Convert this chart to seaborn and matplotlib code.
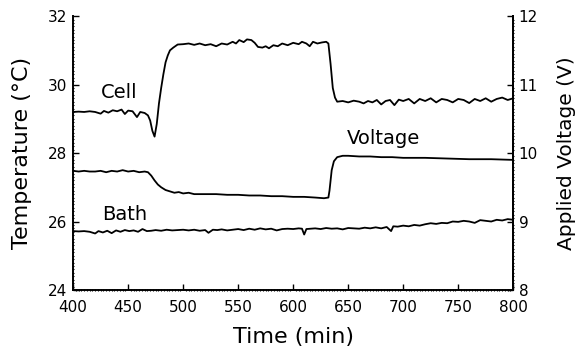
import matplotlib
matplotlib.use("Agg")
import matplotlib.pyplot as plt
from matplotlib.ticker import MultipleLocator
import seaborn as sns
import pandas as pd

# Cell temperature (°C)
cell_time = [400, 405, 410, 415, 420, 425, 428, 432, 436, 440, 444, 447, 450, 454, 458, 461,
             465, 468, 470, 472, 474, 476, 478, 480, 482, 484, 486, 488, 491, 495, 500, 505,
             510, 515, 520, 525, 530, 535, 540, 545, 548, 551, 555, 558, 562, 565, 568, 572,
             575, 578, 582, 586, 590, 595, 600, 605, 608, 612, 615, 618, 622, 626, 630, 632,
             634, 636, 638, 640, 645, 650, 655, 660, 664, 668, 672, 676, 680, 684, 688, 692,
             696, 700, 705, 710, 715, 720, 725, 730, 735, 740, 745, 750, 755, 760, 765, 770,
             775, 780, 785, 790, 795, 800]
cell_temp = [29.20, 29.21, 29.20, 29.22, 29.20, 29.15, 29.23, 29.18, 29.25, 29.22, 29.27, 29.14,
             29.24, 29.22, 29.05, 29.20, 29.17, 29.10, 28.95, 28.65, 28.48, 28.85, 29.45, 29.90,
             30.30, 30.65, 30.85, 31.00, 31.08, 31.17, 31.18, 31.20, 31.16, 31.20, 31.15, 31.18,
             31.12, 31.20, 31.17, 31.25, 31.20, 31.30, 31.24, 31.32, 31.30, 31.22, 31.10, 31.08,
             31.12, 31.06, 31.15, 31.12, 31.20, 31.15, 31.22, 31.18, 31.25, 31.20, 31.12, 31.25,
             31.20, 31.23, 31.25, 31.20, 30.60, 29.90, 29.62, 29.50, 29.52, 29.48, 29.53, 29.50,
             29.45, 29.52, 29.48, 29.55, 29.42, 29.52, 29.55, 29.40, 29.56, 29.52, 29.58, 29.45,
             29.58, 29.52, 29.60, 29.48, 29.58, 29.55, 29.48, 29.58, 29.55, 29.46, 29.58, 29.52,
             29.60, 29.50, 29.58, 29.62, 29.55, 29.60]

# Bath temperature (°C)
bath_time = [400, 405, 410, 415, 420, 423, 427, 431, 435, 439, 443, 447, 451, 455, 459, 463,
             467, 471, 475, 480, 485, 490, 495, 500, 505, 510, 515, 520, 523, 527, 531, 535,
             540, 545, 550, 555, 560, 565, 570, 575, 580, 585, 590, 595, 600, 605, 608, 610,
             612, 616, 620, 625, 630, 635, 640, 645, 650, 655, 660, 665, 670, 675, 680, 685,
             689, 691, 695, 700, 705, 710, 715, 720, 725, 730, 735, 740, 745, 750, 755, 760,
             765, 770, 775, 780, 785, 790, 795, 800]
bath_temp = [25.72, 25.71, 25.72, 25.70, 25.65, 25.72, 25.68, 25.73, 25.66, 25.74, 25.70, 25.75,
             25.72, 25.74, 25.70, 25.78, 25.72, 25.73, 25.75, 25.73, 25.76, 25.74, 25.75, 25.76,
             25.74, 25.76, 25.73, 25.75, 25.67, 25.76, 25.75, 25.77, 25.74, 25.76, 25.78, 25.75,
             25.79, 25.76, 25.80, 25.77, 25.79, 25.74, 25.78, 25.79, 25.78, 25.80, 25.79, 25.62,
             25.78, 25.79, 25.80, 25.78, 25.81, 25.79, 25.80, 25.77, 25.81, 25.80, 25.79, 25.82,
             25.80, 25.83, 25.80, 25.84, 25.72, 25.86, 25.85, 25.88, 25.86, 25.90, 25.88, 25.92,
             25.95, 25.93, 25.96, 25.95, 26.00, 25.99, 26.02, 26.00, 25.96, 26.04, 26.02, 26.00,
             26.05, 26.03, 26.07, 26.05]

# Applied voltage (V)
volt_time = [400, 405, 410, 415, 420, 425, 430, 435, 440, 445, 450, 455, 460, 465, 468, 471,
             474, 477, 480, 484, 488, 492, 496, 500, 505, 510, 520, 530, 540, 550, 560, 570,
             580, 590, 600, 610, 620, 628, 632, 633, 635, 637, 640, 645, 650, 660, 670, 680,
             690, 700, 720, 740, 760, 780, 800]
volt_value = [9.74, 9.73, 9.74, 9.73, 9.73, 9.74, 9.72, 9.74, 9.73, 9.75, 9.73, 9.74, 9.72, 9.73,
              9.72, 9.67, 9.60, 9.54, 9.50, 9.46, 9.44, 9.42, 9.43, 9.41, 9.42, 9.40, 9.40, 9.40,
              9.39, 9.39, 9.38, 9.38, 9.37, 9.37, 9.36, 9.36, 9.35, 9.34, 9.35, 9.45, 9.75, 9.88,
              9.94, 9.96, 9.96, 9.95, 9.95, 9.94, 9.94, 9.93, 9.93, 9.92, 9.91, 9.91, 9.90]

sns.set_style("ticks")
plt.rcParams["font.family"] = ["DejaVu Sans"]
plt.rcParams["text.color"] = "black"
plt.rcParams["axes.labelcolor"] = "black"
plt.rcParams["xtick.color"] = "black"
plt.rcParams["ytick.color"] = "black"

fig = plt.figure(figsize=(5.76, 3.58), dpi=100)
ax = fig.add_axes([0.127, 0.19, 0.764, 0.765])
ax2 = ax.twinx()

lw = 1.3
sns.lineplot(x=cell_time, y=cell_temp, ax=ax, color="black", linewidth=lw)
sns.lineplot(x=bath_time, y=bath_temp, ax=ax, color="black", linewidth=lw)
sns.lineplot(x=volt_time, y=volt_value, ax=ax2, color="black", linewidth=lw)

ax.set_xlim(400, 800)
ax.set_ylim(24, 32)
ax2.set_ylim(8, 12)

ax.xaxis.set_major_locator(MultipleLocator(50))
ax.xaxis.set_minor_locator(MultipleLocator(2.5))
ax.yaxis.set_major_locator(MultipleLocator(2))
ax.yaxis.set_minor_locator(MultipleLocator(0.1))
ax2.yaxis.set_major_locator(MultipleLocator(1))
ax2.yaxis.set_minor_locator(MultipleLocator(0.05))

for a in (ax, ax2):
    a.spines["top"].set_visible(False)
    for s in a.spines.values():
        s.set_linewidth(1.4)
        s.set_color("black")
    a.tick_params(which="major", direction="in", length=4, width=1.0, colors="black",
                  labelsize=11, pad=4)
    a.tick_params(which="minor", direction="inout", length=2, width=0.8, colors="black")
ax.tick_params(axis="x", which="major", pad=7)
ax2.spines["left"].set_visible(False)
ax2.spines["bottom"].set_visible(False)

ax.set_xlabel("Time (min)", fontsize=16, labelpad=9, color="black")
ax.set_ylabel("Temperature (°C)", fontsize=16, labelpad=12, color="black")
ax2.set_ylabel("Applied Voltage (V)", fontsize=14.5, labelpad=14, color="black")

ax.text(425, 29.5, "Cell", fontsize=14, ha="left", va="bottom", color="black")
ax.text(426, 25.92, "Bath", fontsize=14, ha="left", va="bottom", color="black")
ax.text(649, 28.15, "Voltage", fontsize=14, ha="left", va="bottom", color="black")

fig.savefig("out.png", dpi=100, facecolor="white")
